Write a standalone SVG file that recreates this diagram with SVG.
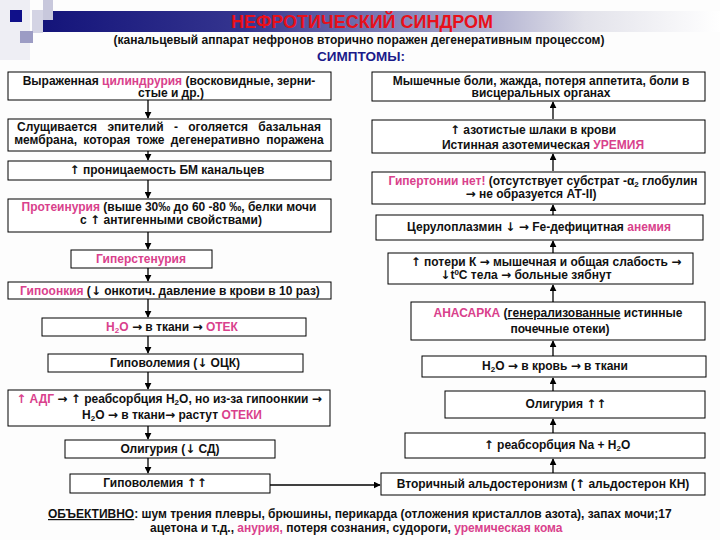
<svg xmlns="http://www.w3.org/2000/svg" width="720" height="540" viewBox="0 0 720 540">
<defs>
<linearGradient id="bar" x1="0" y1="0" x2="1" y2="0">
<stop offset="0" stop-color="#14147a"/>
<stop offset="0.3" stop-color="#35358f"/>
<stop offset="0.8" stop-color="#e2e2ea"/>
<stop offset="1" stop-color="#ffffff"/>
</linearGradient>
<marker id="ah" viewBox="0 0 10 10" refX="9" refY="5" markerWidth="7" markerHeight="7" markerUnits="userSpaceOnUse" orient="auto">
<path d="M0,0 L10,5 L0,10 z" fill="#000"/>
</marker>
</defs>
<style>
.b{fill:#fff;stroke:#000;stroke-width:1}
.t{font-family:"Liberation Sans",Arial,sans-serif;font-weight:bold;font-size:12px;fill:#111;text-anchor:middle}
.p{fill:#d9418c}
.c{stroke:#000;stroke-width:1.3;fill:none;marker-end:url(#ah)}
.s{font-size:8px}
.a{font-family:"DejaVu Sans",sans-serif}
</style>
<rect width="720" height="540" fill="#fdfdfd"/>
<g id="decor">
<rect x="0" y="0" width="30" height="60" fill="#eeeef4"/>
<rect x="43" y="11" width="677" height="21" fill="url(#bar)"/>
<rect x="43" y="0" width="10" height="20" fill="#c8c8dc"/>
<rect x="32" y="10" width="11" height="23" fill="#d4d4e4"/>
<rect x="20" y="31" width="13" height="12" fill="#9c9cc4"/>
<rect x="10" y="10" width="12" height="12" fill="#10108a"/>
</g>
<g id="header">
<text x="362" y="28" class="t" style="font-size:18px;fill:#e8101a">НЕФРОТИЧЕСКИЙ СИНДРОМ</text>
<text x="359" y="44" class="t" style="font-size:12px">(канальцевый аппарат нефронов вторично поражен дегенеративным процессом)</text>
<text x="361" y="61" class="t" style="font-size:13.5px;fill:#1a1a8a">СИМПТОМЫ:</text>
</g>
<g id="connectors">
<line x1="148" y1="100" x2="148" y2="118" class="c"/>
<line x1="148" y1="151" x2="148" y2="160" class="c"/>
<line x1="148" y1="180" x2="148" y2="198" class="c"/>
<line x1="148" y1="232" x2="148" y2="249" class="c"/>
<line x1="148" y1="268" x2="148" y2="281" class="c"/>
<line x1="148" y1="299" x2="148" y2="317" class="c"/>
<line x1="148" y1="336" x2="148" y2="353" class="c"/>
<line x1="148" y1="372" x2="148" y2="389" class="c"/>
<line x1="148" y1="426" x2="148" y2="439" class="c"/>
<line x1="148" y1="458" x2="148" y2="473" class="c"/>
<line x1="270" y1="485" x2="380" y2="485" class="c"/>
<line x1="553" y1="119" x2="553" y2="102" class="c"/>
<line x1="553" y1="171" x2="553" y2="154" class="c"/>
<line x1="553" y1="215" x2="553" y2="205" class="c"/>
<line x1="553" y1="253" x2="553" y2="241" class="c"/>
<line x1="553" y1="302" x2="553" y2="285" class="c"/>
<line x1="553" y1="356" x2="553" y2="341" class="c"/>
<line x1="553" y1="391" x2="553" y2="378" class="c"/>
<line x1="553" y1="433" x2="553" y2="419" class="c"/>
<line x1="553" y1="473" x2="553" y2="459" class="c"/>
</g>
<g id="n-l1"><rect x="8" y="72" width="323" height="28" class="b"/>
<text x="169" y="84.5" class="t">Выраженная <tspan class="p">цилиндрурия</tspan> (восковидные, зерни-</text>
<text x="171" y="97" class="t">стые и др.)</text></g>
<g id="n-l2"><rect x="8" y="119" width="323" height="32" class="b"/>
<text x="169" y="131" class="t" style="word-spacing:7px">Слущивается эпителий - оголяется базальная</text>
<text x="169" y="143.5" class="t" style="word-spacing:3px">мембрана, которая тоже дегенеративно поражена</text></g>
<g id="n-l3"><rect x="8" y="161" width="323" height="19" class="b"/>
<text x="167" y="174" class="t"><tspan class="a">↑</tspan> проницаемость БМ канальцев</text></g>
<g id="n-l4"><rect x="8" y="199" width="323" height="33" class="b"/>
<text x="169" y="211" class="t"><tspan class="p">Протеинурия</tspan>  (выше 30‰  до 60 -80 ‰, белки мочи</text>
<text x="171" y="223.5" class="t">с <tspan class="a">↑</tspan> антигенными свойствами)</text></g>
<g id="n-l5"><rect x="71" y="250" width="141" height="18" class="b"/>
<text x="141" y="263" class="t p">Гиперстенурия</text></g>
<g id="n-l6"><rect x="8" y="282" width="323" height="17" class="b"/>
<text x="170" y="295" class="t"><tspan class="p">Гипоонкия</tspan> (<tspan class="a">↓</tspan> онкотич. давление в крови в 10 раз)</text></g>
<g id="n-l7"><rect x="42" y="318" width="264" height="18" class="b"/>
<text x="172" y="331" class="t"><tspan class="p">H<tspan class="s" dy="2">2</tspan><tspan dy="-2">O</tspan></tspan> <tspan class="a">→</tspan>  в ткани <tspan class="a">→</tspan> <tspan class="p">ОТЕК</tspan></text></g>
<g id="n-l8"><rect x="48" y="354" width="255" height="18" class="b"/>
<text x="175" y="367" class="t">Гиповолемия (<tspan class="a">↓</tspan> ОЦК)</text></g>
<g id="n-l9"><rect x="8" y="390" width="322" height="36" class="b"/>
<text x="169" y="403" class="t"><tspan class="p"><tspan class="a">↑</tspan> АДГ</tspan>  <tspan class="a">→</tspan> <tspan class="a">↑</tspan> реабсорбция H<tspan class="s" dy="2">2</tspan><tspan dy="-2">O, но из-за гипоонкии </tspan><tspan class="a">→</tspan></text>
<text x="172" y="419" class="t">H<tspan class="s" dy="2">2</tspan><tspan dy="-2">O </tspan><tspan class="a">→</tspan> в ткани<tspan class="a">→</tspan>  растут <tspan class="p">ОТЕКИ</tspan></text></g>
<g id="n-l10"><rect x="65" y="440" width="210" height="18" class="b"/>
<text x="170" y="453" class="t">Олигурия (<tspan class="a">↓</tspan> СД)</text></g>
<g id="n-l11"><rect x="70" y="474" width="200" height="19" class="b"/>
<text x="155" y="487" class="t">Гиповолемия <tspan class="a">↑↑</tspan></text></g>
<g id="n-r1"><rect x="372" y="72" width="333" height="29" class="b"/>
<text x="541" y="84.5" class="t">Мышечные боли, жажда, потеря аппетита, боли в</text>
<text x="541" y="97" class="t">висцеральных органах</text></g>
<g id="n-r2"><rect x="372" y="120" width="333" height="33" class="b"/>
<text x="533" y="134" class="t"><tspan class="a">↑</tspan> азотистые шлаки в крови</text>
<text x="543" y="149" class="t">Истинная азотемическая <tspan class="p">УРЕМИЯ</tspan></text></g>
<g id="n-r3"><rect x="372" y="172" width="333" height="32" class="b"/>
<text x="543" y="185" class="t"><tspan class="p">Гипертонии нет!</tspan>  (отсутствует субстрат -α<tspan class="s" dy="2">2</tspan><tspan dy="-2"> глобулин</tspan></text>
<text x="531" y="197.5" class="t"><tspan class="a">→</tspan> не образуется  АТ-II)</text></g>
<g id="n-r4"><rect x="376" y="215" width="327" height="25" class="b"/>
<text x="539" y="231" class="t">Церулоплазмин <tspan class="a">↓</tspan> <tspan class="a">→</tspan> Fe-дефицитная <tspan class="p">анемия</tspan></text></g>
<g id="n-r5"><rect x="388" y="253" width="305" height="31" class="b"/>
<text x="546" y="266" class="t"><tspan class="a">↑</tspan> потери К <tspan class="a">→</tspan> мышечная и общая слабость <tspan class="a">→</tspan></text>
<text x="526" y="279" class="t"><tspan class="a">↓</tspan>t<tspan class="s" dy="-4">0</tspan><tspan dy="4">С тела </tspan><tspan class="a">→</tspan> больные зябнут</text></g>
<g id="n-r6"><rect x="411" y="302" width="294" height="38" class="b"/>
<text x="558" y="317" class="t"><tspan class="p">АНАСАРКА</tspan> (<tspan text-decoration="underline">генерализованные</tspan> истинные</text>
<text x="560" y="333" class="t">почечные отеки)</text></g>
<g id="n-r7"><rect x="422" y="356" width="284" height="21" class="b"/>
<text x="555" y="370" class="t">H<tspan class="s" dy="2">2</tspan><tspan dy="-2">O </tspan><tspan class="a">→</tspan>  в кровь  <tspan class="a">→</tspan> в ткани</text></g>
<g id="n-r8"><rect x="445" y="391" width="260" height="27" class="b"/>
<text x="566" y="408" class="t">Олигурия  <tspan class="a">↑↑</tspan></text></g>
<g id="n-r9"><rect x="405" y="433" width="300" height="25" class="b"/>
<text x="557" y="449" class="t"><tspan class="a">↑</tspan> реабсорбция Na + H<tspan class="s" dy="2">2</tspan><tspan dy="-2">O</tspan></text></g>
<g id="n-r10"><rect x="381" y="473" width="324" height="22" class="b"/>
<text x="543" y="488" class="t">Вторичный альдостеронизм (<tspan class="a">↑</tspan> альдостерон КН)</text></g>
<g id="footer">
<text x="48" y="518" class="t" style="text-anchor:start"><tspan text-decoration="underline">ОБЪЕКТИВНО</tspan>: шум трения плевры, брюшины, перикарда (отложения кристаллов азота), запах мочи;17</text>
<text x="150" y="531.5" class="t" style="text-anchor:start">ацетона и т.д., <tspan class="p">анурия,</tspan> потеря сознания, судороги, <tspan class="p">уремическая кома</tspan></text>
</g>
</svg>
